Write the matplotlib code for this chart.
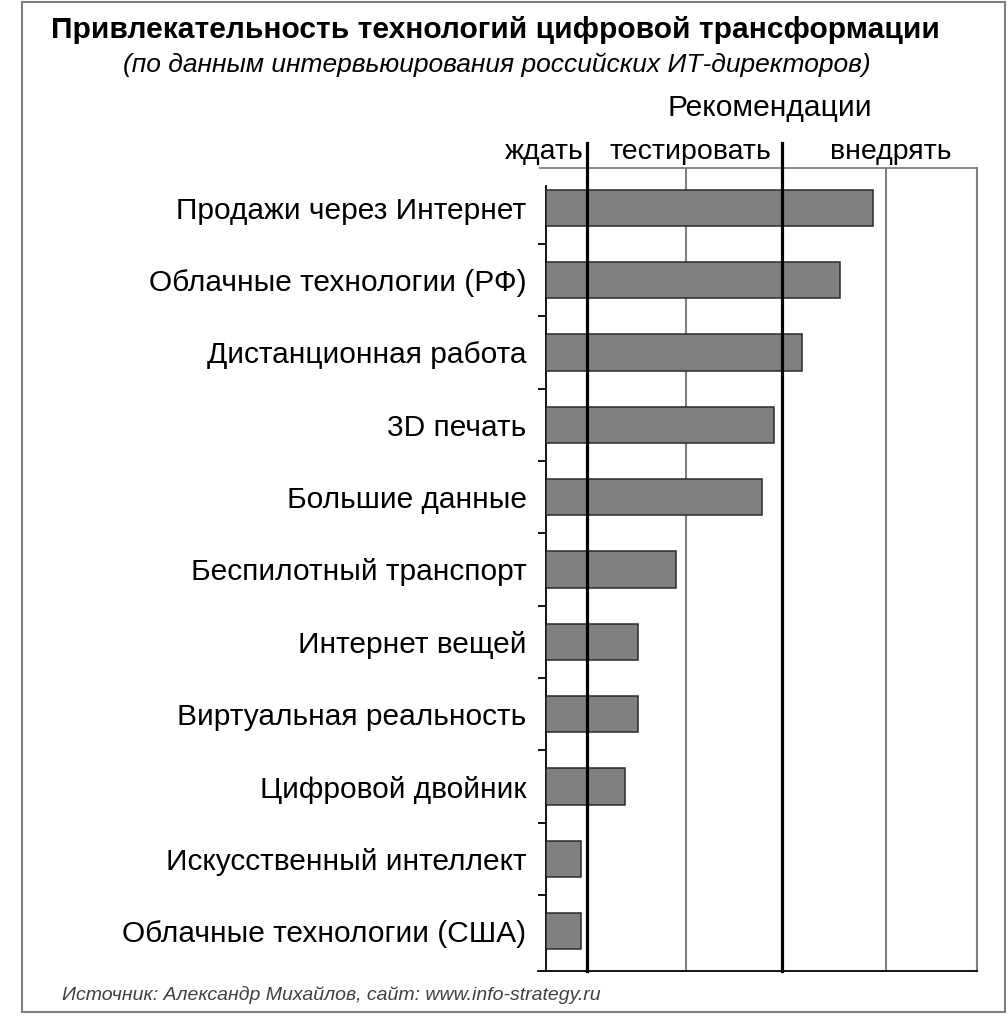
import matplotlib.pyplot as plt
from matplotlib.patches import Rectangle

plt.rcParams['font.family'] = ['Liberation Sans', 'DejaVu Sans']

categories = [
    "Продажи через Интернет",
    "Облачные технологии (РФ)",
    "Дистанционная работа",
    "3D печать",
    "Большие данные",
    "Беспилотный транспорт",
    "Интернет вещей",
    "Виртуальная реальность",
    "Цифровой двойник",
    "Искусственный интеллект",
    "Облачные технологии (США)",
]
scores = [3.27, 2.94, 2.56, 2.28, 2.16, 1.30, 0.92, 0.92, 0.79, 0.35, 0.35]

# zone borders (thick) and helper grid (thin)
zone_edges = [0.41, 2.36]
grid_lines = [1.40, 3.40]
zones = ["ждать", "тестировать", "внедрять"]
zone_centers = [-0.02, 1.44, 3.45]
x_max = 4.31

fig = plt.figure(figsize=(10.08, 10.16), dpi=100)
ax = fig.add_axes([546 / 1008, 45 / 1016, 431 / 1008, 803 / 1016])

y = list(range(len(categories)))
ax.barh(y, scores, height=0.5, color="#808080", edgecolor="#2a2a2a", linewidth=1.1, zorder=3)

ax.set_xlim(0, x_max)
ax.set_ylim(10.55, -0.55)

for xv in grid_lines:
    ax.axvline(xv, color="#808080", lw=1.5, zorder=1)
ax.axvline(x_max, color="#808080", lw=1.5, zorder=1, clip_on=False)
for xv in zone_edges:
    ax.axvline(xv, ymin=0, ymax=1.031, color="black", lw=2.3, zorder=4, clip_on=False)

for s in ["top", "right"]:
    ax.spines[s].set_visible(False)
ax.spines["left"].set_linewidth(1.3)
ax.spines["left"].set_bounds(10.55, -0.3)
ax.spines["bottom"].set_linewidth(1.3)
ax.spines["bottom"].set_bounds(-0.08, x_max)
ax.plot([-0.06, x_max], [1, 1], transform=ax.get_xaxis_transform(),
        color="#808080", lw=1.3, clip_on=False)

ax.set_xticks([])
ax.set_yticks([i + 0.5 for i in range(len(categories) - 1)])
ax.set_yticklabels([])
ax.tick_params(axis="y", which="major", length=6, width=1.3, direction="out")
ax.set_yticks(y, minor=True)
ax.set_yticklabels(categories, minor=True, fontsize=21.5)
ax.tick_params(axis="y", which="minor", length=0, pad=14)

tr = ax.get_xaxis_transform()
for name, xc in zip(zones, zone_centers):
    ax.text(xc, 1.02, name, transform=tr, ha="center", va="center", fontsize=20.5)
ax.text(2.24, 1.075, "Рекомендации", transform=tr, ha="center", va="center", fontsize=21.6)

fig.text(0.492, 0.9705, "Привлекательность технологий цифровой трансформации",
         ha="center", va="center", fontsize=21.6, fontweight="bold")
fig.text(0.493, 0.936, "(по данным интервьюирования российских ИТ-директоров)",
         ha="center", va="center", fontsize=19, style="italic")
fig.text(0.0615, 0.0207, "Источник: Александр Михайлов, сайт: www.info-strategy.ru",
         ha="left", va="center", fontsize=14, style="italic", color="#404040")

fig.patches.append(Rectangle((22 / 1008, 4 / 1016), 983 / 1008, 1010 / 1016,
                             transform=fig.transFigure, fill=False,
                             edgecolor="#808080", lw=1.5))

fig.savefig("out.png", dpi=100)
